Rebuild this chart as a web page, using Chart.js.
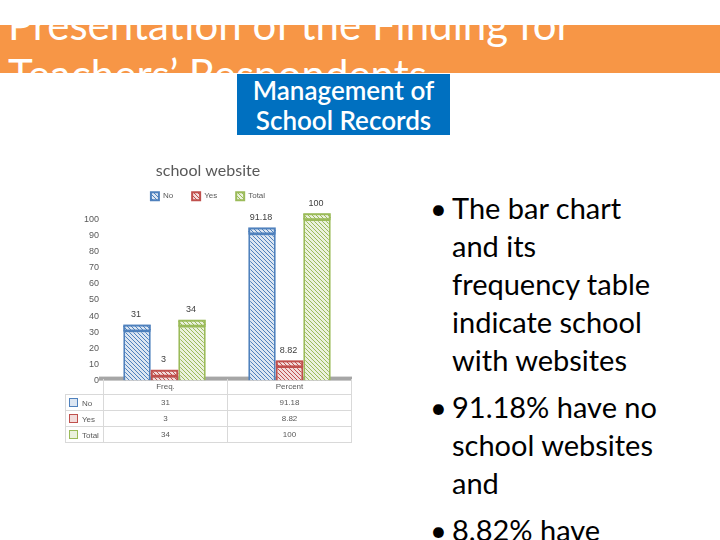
<!DOCTYPE html>
<html>
<head>
<meta charset="utf-8">
<script src="https://cdn.jsdelivr.net/npm/chart.js@4"></script>
<style>
  body { margin: 0; width: 720px; height: 540px; background: #fff; overflow: hidden; position: relative; font-family: Lato, "Open Sans", sans-serif; }
  .band { position: absolute; left: 0; top: 25px; width: 720px; height: 48px; background: #f79646; overflow: hidden; }
  .band .t { position: absolute; left: 8px; color: #fff; font-size: 42px; white-space: nowrap; }
  .box { position: absolute; left: 237px; top: 74px; width: 213px; height: 61px; background: #0070c0; color: #fff; font-size: 26px; font-weight: 600; line-height: 30px; text-align: center; padding-top: 1px; box-sizing: border-box; white-space: nowrap; }
  #wrap { position: absolute; left: 60px; top: 155px; width: 300px; height: 234px; }
  table { position: absolute; left: 65px; top: 379px; border-collapse: collapse; font-family: "Liberation Sans", sans-serif; font-size: 8px; color: #595959; }
  td { border: 1px solid #d9d9d9; height: 15px; padding: 0; text-align: center; }
  td.lab { width: 34px; text-align: left; padding-left: 3px; }
  td.val { width: 123px; }
  td.blank { border-left: none; border-top: none; }
  tr.head td.val { border-top: none; }
  .sw { display: inline-block; width: 7px; height: 7px; border: 1px solid; margin-right: 4px; vertical-align: -1px; }
  .bul { position: absolute; left: 430px; top: 189px; font-size: 29px; line-height: 38px; color: #000; }
  .bul p { margin: 0 0 9px 22px; position: relative; }
  .bul p::before { content: "\2022"; position: absolute; left: -22px; }
</style>
</head>
<body>
<div class="band">
  <div class="t" style="top:-26px">Presentation of the Finding for</div>
  <div class="t" style="top:24px">Teachers’ Respondents</div>
</div>
<div class="box">Management of<br>School Records</div>
<div id="wrap"><canvas id="chart" width="300" height="234"></canvas></div>
<table id="tbl"></table>
<div class="bul">
  <p>The bar chart<br>and its<br>frequency table<br>indicate school<br>with websites</p>
  <p>91.18% have no<br>school websites<br>and</p>
  <p>8.82% have</p>
</div>
<script>
// chart data
const categories = ['Freq.', 'Percent'];
const seriesNames = ['No', 'Yes', 'Total'];
const noValues = [31, 91.18];
const yesValues = [3, 8.82];
const totalValues = [34, 100];

const lineColors = ['#4f81bd', '#c0504d', '#9bbb59'];
const fillColors = ['#dce6f2', '#f2dcdb', '#ebf1de'];

// Function to make a diagonal hatch pattern
function makeHatch(bg, fg) {
    const c = document.createElement('canvas');
    c.width = 4; c.height = 4;
    const g = c.getContext('2d');
    g.fillStyle = bg;
    g.fillRect(0, 0, 4, 4);
    g.strokeStyle = fg;
    g.lineWidth = 1;
    g.beginPath();
    g.moveTo(-1, -1); g.lineTo(5, 5);
    g.moveTo(-1, 3); g.lineTo(1, 5);
    g.moveTo(3, -1); g.lineTo(5, 1);
    g.stroke();
    return g.createPattern(c, 'repeat');
}

const patterns = lineColors.map((c, i) => makeHatch(fillColors[i], c));
const allValues = [noValues, yesValues, totalValues];

// extra room under the legend
const legendGap = {
    id: 'legendGap',
    beforeInit(chart) {
        const fit = chart.legend.fit;
        chart.legend.fit = function () {
            fit.bind(chart.legend)();
            this.height += 9;
        };
    }
};

// floor under the bars
const floorPlugin = {
    id: 'floor',
    beforeDatasetsDraw(chart) {
        const a = chart.chartArea;
        const ctx = chart.ctx;
        ctx.save();
        ctx.fillStyle = '#a6a6a6';
        ctx.fillRect(a.left - 3, a.bottom - 4, a.right - a.left + 3, 4);
        ctx.restore();
    }
};

// 3D top cap and value labels
const capLabelPlugin = {
    id: 'capLabel',
    afterDatasetsDraw(chart) {
        const ctx = chart.ctx;
        ctx.save();
        chart.data.datasets.forEach((ds, i) => {
            const meta = chart.getDatasetMeta(i);
            meta.data.forEach((bar, j) => {
                const w = bar.width;
                ctx.fillStyle = patterns[i];
                ctx.strokeStyle = lineColors[i];
                ctx.lineWidth = 2;
                ctx.fillRect(bar.x - w / 2, bar.y - 5, w, 5);
                ctx.strokeRect(bar.x - w / 2 + 1, bar.y - 5, w - 2, 5);
                ctx.fillStyle = '#404040';
                ctx.font = '9px "Liberation Sans"';
                ctx.textAlign = 'center';
                ctx.textBaseline = 'middle';
                ctx.fillText(String(ds.data[j]), bar.x - 1, bar.y - 16);
            });
        });
        ctx.restore();
    }
};

const ctx = document.getElementById('chart').getContext('2d');
new Chart(ctx, {
    type: 'bar',
    data: {
        labels: categories,
        datasets: seriesNames.map((name, i) => ({
            label: name,
            data: allValues[i],
            backgroundColor: patterns[i],
            borderColor: lineColors[i],
            borderWidth: 2,
            barPercentage: 1,
            categoryPercentage: 0.66
        }))
    },
    options: {
        responsive: false,
        animation: false,
        devicePixelRatio: 1,
        layout: { padding: { left: 4, right: 8, top: 0, bottom: 0 } },
        plugins: {
            title: {
                display: true,
                text: 'school website',
                color: '#595959',
                font: { family: 'Lato', size: 16, weight: 'normal' },
                padding: { top: 6, bottom: -7 }
            },
            legend: {
                labels: {
                    boxWidth: 8,
                    boxHeight: 8,
                    color: '#595959',
                    font: { family: 'Liberation Sans', size: 8 },
                    padding: 19
                }
            },
            tooltip: { enabled: false }
        },
        scales: {
            x: {
                grid: { display: false, drawTicks: false },
                border: { display: false },
                ticks: { display: false }
            },
            y: {
                min: 0,
                max: 100,
                grid: { display: false, drawTicks: false },
                border: { display: false },
                ticks: { stepSize: 10, color: '#595959', font: { family: 'Liberation Sans', size: 9 }, padding: 3 },
                afterFit(scale) { scale.width += 17; }
            }
        }
    },
    plugins: [legendGap, floorPlugin, capLabelPlugin]
});

// data table under the chart (header row holds the categories)
const tbl = document.getElementById('tbl');
const head = document.createElement('tr');
head.className = 'head';
head.innerHTML = '<td class="lab blank"></td>' + categories.map(c => '<td class="val">' + c + '</td>').join('');
tbl.appendChild(head);
seriesNames.forEach((name, i) => {
    const tr = document.createElement('tr');
    tr.innerHTML = '<td class="lab"><span class="sw" style="background:' + fillColors[i] +
        ';border-color:' + lineColors[i] + '"></span>' + name + '</td>' +
        allValues[i].map(v => '<td class="val">' + v + '</td>').join('');
    tbl.appendChild(tr);
});
</script>
</body>
</html>
